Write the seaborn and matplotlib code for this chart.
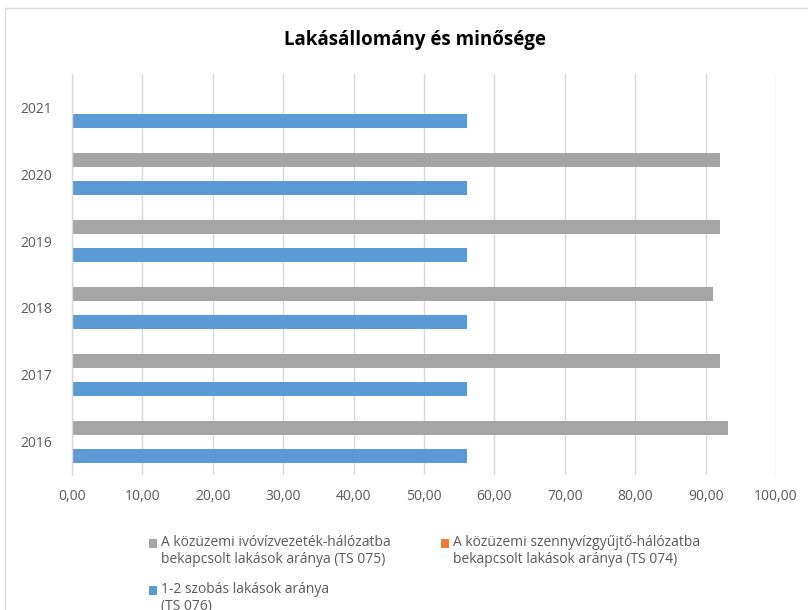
import numpy as np
import pandas as pd
import matplotlib
matplotlib.use("Agg")
import matplotlib.pyplot as plt
from matplotlib.patches import Rectangle, Patch
from matplotlib.legend_handler import HandlerPatch
import seaborn as sns

# Data
years = ["2021", "2020", "2019", "2018", "2017", "2016"]
ivoviz = [np.nan, 92.1, 92.1, 91.05, 92.1, 93.25]      # TS 075
szennyviz = [0.0, 0.0, 0.0, 0.0, 0.0, 0.0]              # TS 074
szobas = [56.15, 56.15, 56.15, 56.15, 56.15, 56.15]     # TS 076

series_names = [
    "A közüzemi ivóvízvezeték-hálózatba\nbekapcsolt lakások aránya (TS 075)",
    "A közüzemi szennyvízgyűjtő-hálózatba\nbekapcsolt lakások aránya (TS 074)",
    "1-2 szobás lakások aránya\n(TS 076)",
]
colors = ["#A5A5A5", "#ED7D31", "#5B9BD5"]
x_ticks = [0, 10, 20, 30, 40, 50, 60, 70, 80, 90, 100]

rows = []
for name, vals in zip(series_names, [ivoviz, szennyviz, szobas]):
    for y, v in zip(years, vals):
        rows.append({"ev": y, "sorozat": name, "ertek": v})
df = pd.DataFrame(rows)

sns.set_theme(style="white")
plt.rcParams["font.family"] = ["Open Sans", "DejaVu Sans"]
text_color = "#595959"

fig = plt.figure(figsize=(8.08, 6.10), dpi=100)
ax = fig.add_axes([72 / 808, 1 - 475 / 610, (776 - 72) / 808, (475 - 74) / 610])

sns.barplot(
    data=df, y="ev", x="ertek", hue="sorozat",
    order=years, hue_order=series_names, palette=colors,
    orient="h", width=0.63, linewidth=0, saturation=1,
    errorbar=None, legend=False, ax=ax,
)

ax.set_xlim(0, 100)
ax.set_xticks(x_ticks)
ax.set_xticklabels([f"{t:.2f}".replace(".", ",") for t in x_ticks])
ax.set_xlabel("")
ax.set_ylabel("")
ax.xaxis.grid(True, color="#d9d9d9", linewidth=1)
ax.yaxis.grid(False)
ax.set_axisbelow(True)
for side in ["top", "right", "bottom"]:
    ax.spines[side].set_visible(False)
ax.spines["left"].set_color("#d9d9d9")
ax.spines["left"].set_linewidth(1)
ax.tick_params(axis="both", length=0, colors=text_color, labelsize=10)
ax.tick_params(axis="x", pad=10)
ax.tick_params(axis="y", pad=14)

fig.text(0.513, 1 - 40 / 610, "Lakásállomány és minősége", ha="center", va="center",
         fontsize=13.5, fontweight="bold", color="black")


# legend squares sit next to the first line of each two-line label
def top_square(legend, orig_handle, xdescent, ydescent, width, height, fontsize):
    return Rectangle((-xdescent, -ydescent + 0.58 * fontsize), width, height)


# legend filled row by row: gray, orange on the first row, blue below
handles = [Patch(facecolor=c, edgecolor="none") for c in colors]
idx = [0, 2, 1]
leg = fig.legend(
    [handles[i] for i in idx], [series_names[i] for i in idx], loc="upper left",
    bbox_to_anchor=(136 / 808, 1 - 522 / 610), ncol=2, frameon=False,
    fontsize=10, handlelength=0.6, handleheight=0.6, handletextpad=0.3,
    columnspacing=3.6, labelspacing=1.1,
    handler_map={Patch: HandlerPatch(patch_func=top_square)},
)
for t in leg.get_texts():
    t.set_color(text_color)

# chart frame
fig.patches.append(Rectangle((5 / 808, -0.05), 1.2, 1 - 8 / 610 + 0.05,
                             transform=fig.transFigure, fill=False,
                             edgecolor="#d9d9d9", linewidth=1))

fig.savefig("out.png", dpi=100, facecolor="white")
